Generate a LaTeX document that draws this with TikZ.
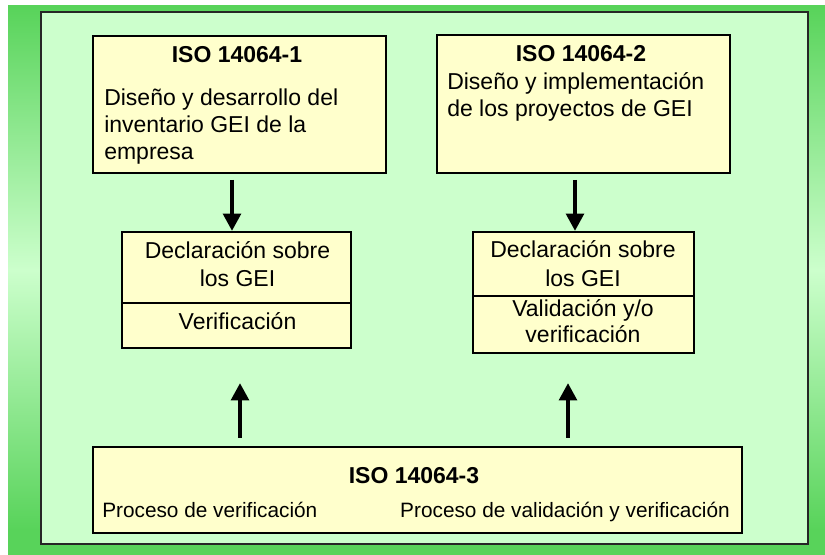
\documentclass[tikz,border=0pt]{standalone}
\usepackage{fontspec}
\setmainfont{Liberation Sans}
\usetikzlibrary{arrows.meta}
\definecolor{darkgr}{HTML}{58D35A}
\definecolor{lightgr}{HTML}{CCFFCC}
\definecolor{boxyel}{HTML}{FFFFCC}
\tikzset{
  box/.style={draw=black, line width=1.2pt, fill=boxyel, inner sep=0pt},
  panel/.style={draw=black!85, line width=1.6pt, fill=lightgr, inner sep=0pt},
  txt/.style={inner sep=0pt, font=\fontsize{17.25}{20}\selectfont},
  ttl/.style={inner sep=0pt, font=\fontsize{17.25}{20}\selectfont\bfseries},
  small/.style={inner sep=0pt, font=\fontsize{15.6}{18}\selectfont},
  bigarrow/.style={line width=3.6pt, -{Triangle[length=13pt,width=13pt]}}
}
\begin{document}
\begin{tikzpicture}[x=0.75pt,y=-0.75pt]
\useasboundingbox (0,0) rectangle (825,555);
\fill[white] (0,0) rectangle (825,555);
% green background gradient
\shade[top color=darkgr, bottom color=lightgr] (8,6) rectangle (825,270);
\shade[top color=lightgr, bottom color=darkgr] (8,270) rectangle (825,530);
\fill[darkgr] (8,529.5) rectangle (825,555);
% panel
\node[panel, minimum width=575.25pt, minimum height=399pt] (panel) at (424.5,278) {};
% boxes
\node[box, minimum width=219.75pt, minimum height=102.75pt] (b1) at (239.5,104.5) {};
\node[box, minimum width=219.75pt, minimum height=103.5pt] (b2) at (583.5,104) {};
\node[box, minimum width=171.75pt, minimum height=87pt] (b3) at (236.5,290) {};
\node[box, minimum width=165.75pt, minimum height=90.75pt] (b4) at (583.5,292.5) {};
\node[box, minimum width=486.75pt, minimum height=64.5pt] (b5) at (417.5,490) {};
% dividers
\coordinate (d3) at (0,303);
\coordinate (d4) at (0,296);
\draw[line width=1.2pt] (b3.west |- d3) -- (b3.east |- d3);
\draw[line width=1.2pt] (b4.west |- d4) -- (b4.east |- d4);
% texts box 1
\node[ttl, anchor=base] (t1) at (237,63) {ISO 14064-1};
\node[txt, anchor=base west] (t1a) at (104,106) {Diseño y desarrollo del};
\node[txt, anchor=base west] (t1b) at (104,133) {inventario GEI de la};
\node[txt, anchor=base west] (t1c) at (104,160) {empresa};
% texts box 2
\node[ttl, anchor=base] (t2) at (581,62) {ISO 14064-2};
\node[txt, anchor=base west] (t2a) at (447,90) {Diseño y implementación};
\node[txt, anchor=base west] (t2b) at (447,117) {de los proyectos de GEI};
% texts box 3
\node[txt, anchor=base] (t3a) at (237.5,259) {Declaración sobre};
\node[txt, anchor=base] (t3b) at (237.5,287) {los GEI};
\node[txt, anchor=base] (t3c) at (237.5,330) {Verificación};
% texts box 4
\node[txt, anchor=base] (t4a) at (583,258) {Declaración sobre};
\node[txt, anchor=base] (t4b) at (583,287) {los GEI};
\node[txt, anchor=base] (t4c) at (583,317) {Validación y/o};
\node[txt, anchor=base] (t4d) at (583,343) {verificación};
% texts box 5
\node[ttl, anchor=base] (t5) at (414,484) {ISO 14064-3};
\node[small, anchor=base west] (t5a) at (102,518) {Proceso de verificación};
\node[small, anchor=base east] (t5b) at (730,518) {Proceso de validación y verificación};
% arrows
\coordinate (a1s) at (232,180);
\coordinate (a1e) at (232,231);
\coordinate (a2s) at (575,180);
\coordinate (a2e) at (575,231);
\coordinate (a3s) at (240,438);
\coordinate (a3e) at (240,383);
\coordinate (a4s) at (568,438);
\coordinate (a4e) at (568,383);
\draw[bigarrow] (a1s) -- (a1e);
\draw[bigarrow] (a2s) -- (a2e);
\draw[bigarrow] (a3s) -- (a3e);
\draw[bigarrow] (a4s) -- (a4e);
\end{tikzpicture}
\end{document}
